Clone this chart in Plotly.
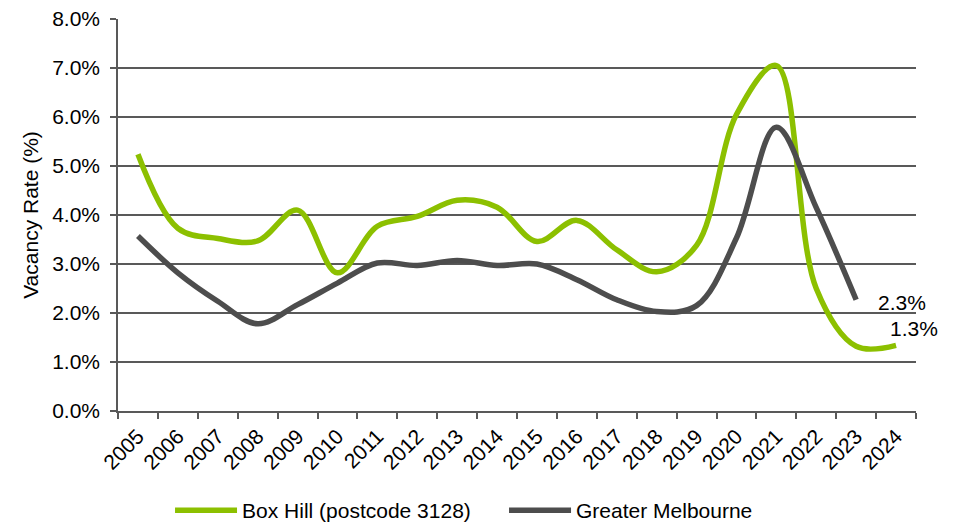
import plotly.graph_objects as go

years = [str(y) for y in range(2005, 2025)]
box_hill = [5.24, 3.73, 3.52, 3.47, 4.10, 2.82, 3.77, 3.97, 4.30, 4.16,
            3.46, 3.89, 3.29, 2.84, 3.38, 6.05, 7.05, 2.50, 1.32, 1.34]
greater_melb = [3.57, 2.82, 2.24, 1.78, 2.17, 2.61, 3.02, 2.97, 3.07, 2.97,
                3.00, 2.68, 2.27, 2.03, 2.15, 3.53, 5.79, 4.15, 2.27]

GREEN = "#8cc000"
GRAY = "#4d4d4d"
AXIS = "#595959"
FONT = "Liberation Sans, Arial, sans-serif"

fig = go.Figure()
fig.add_trace(go.Scatter(x=years, y=box_hill, mode="lines", name="Box Hill (postcode 3128)",
                         line=dict(color=GREEN, width=5.5, shape="spline", smoothing=1)))
fig.add_trace(go.Scatter(x=years[:len(greater_melb)], y=greater_melb, mode="lines",
                         name="Greater Melbourne",
                         line=dict(color=GRAY, width=5.5, shape="spline", smoothing=1)))

# end labels (category index positions)
gm_last = len(greater_melb) - 1
bh_last = len(box_hill) - 1
fig.add_annotation(x=gm_last, y=greater_melb[-1],
                   text=f"{greater_melb[-1]:.1f}%", showarrow=False, xanchor="left",
                   xshift=20, yshift=-3, font=dict(size=21, color="#000", family=FONT))
fig.add_annotation(x=bh_last, y=box_hill[-1], text=f"{box_hill[-1]:.1f}%",
                   showarrow=False, xanchor="left", xshift=-8, yshift=17,
                   font=dict(size=21, color="#000", family=FONT))

# page body has an 8px margin, so figure coords = page coords - 8
fig.update_layout(
    width=947, height=515,
    margin=dict(l=110, r=39, t=11, b=112, autoexpand=False),
    paper_bgcolor="white", plot_bgcolor="white",
    font=dict(family=FONT, size=21, color="#000"),
    showlegend=True,
    legend=dict(orientation="h", x=0.0652, xanchor="left", y=-0.254, yanchor="middle",
                font=dict(size=21, family=FONT), itemwidth=62,
                entrywidth=257, entrywidthmode="pixels", bgcolor="rgba(0,0,0,0)"),
    xaxis=dict(type="category", tickson="boundaries", ticks="outside", ticklen=6,
               tickcolor=AXIS, tickwidth=1.5, showline=True, linecolor=AXIS, linewidth=1.5,
               showgrid=False, tickangle=-45, tickfont=dict(size=21, family=FONT),
               ticklabelstandoff=3, ticklabeloverflow="allow",
               range=[-0.5, len(years) - 0.5], automargin=False),
    yaxis=dict(range=[0, 8], dtick=1, tickformat=".1f", ticksuffix="%", ticks="outside",
               ticklen=6, tickcolor=AXIS, tickwidth=1.5, showline=True, linecolor=AXIS,
               linewidth=1.5, showgrid=True, gridcolor=AXIS, gridwidth=1.5,
               zeroline=False, tickfont=dict(size=21, family=FONT), automargin=False,
               ticklabelstandoff=6, ticklabeloverflow="allow",
               title=dict(text="Vacancy Rate (%)", font=dict(size=21, family=FONT), standoff=8)),
)

fig.write_html("out.html")
